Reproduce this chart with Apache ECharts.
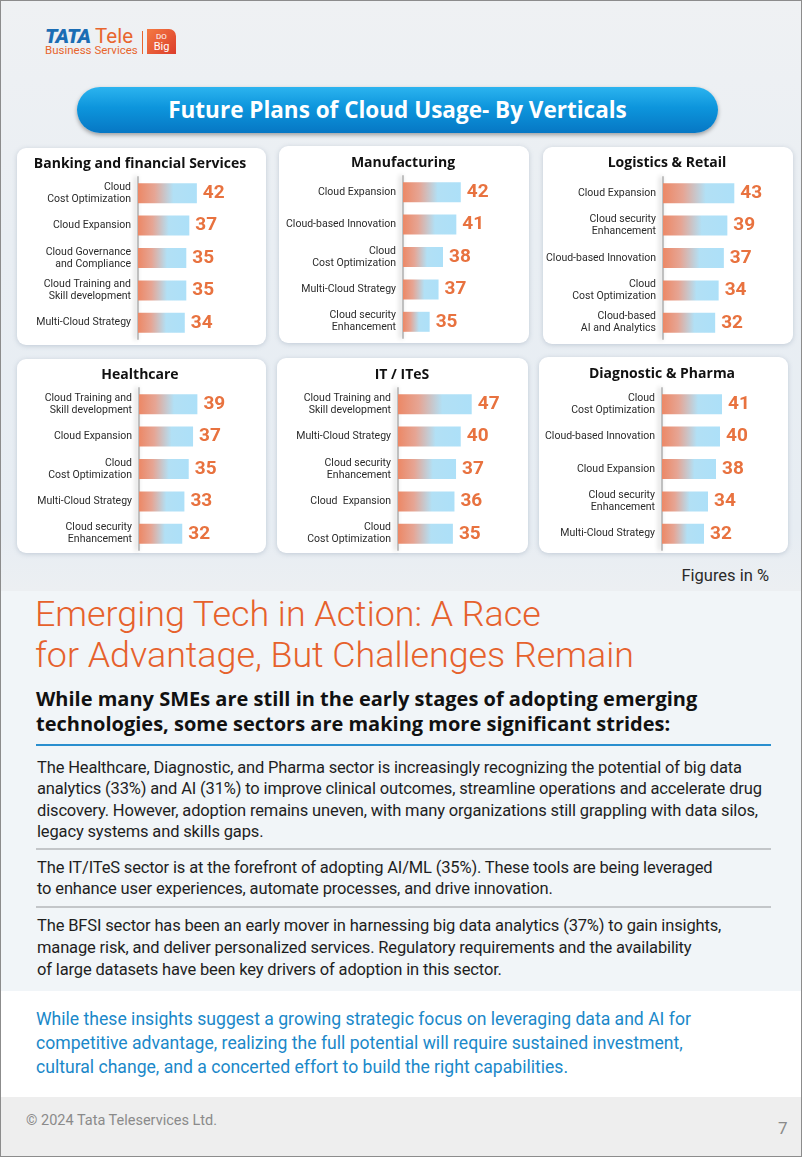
<!DOCTYPE html>
<html>
<head>
<meta charset="utf-8">
<script src="https://cdn.jsdelivr.net/npm/echarts@6/dist/echarts.min.js"></script>
<style>
  html,body{margin:0;padding:0;}
  body{width:802px;height:1157px;position:relative;overflow:hidden;font-family:Roboto,"Open Sans",sans-serif;}
  #page{position:absolute;left:0;top:0;width:800px;height:1155px;border:1px solid #8c8c8c;background:#eef1f4;overflow:hidden;}
  .abs{position:absolute;white-space:nowrap;}
  .panel{position:absolute;background:#fff;border-radius:9px;box-shadow:0 1px 5px rgba(90,110,140,0.28);}
  #chart{position:absolute;left:0;top:0;width:802px;height:1157px;}
  .body{font-size:16.5px;color:#1e1e1e;letter-spacing:-0.15px;}
</style>
</head>
<body>
<div id="page">
  <!-- backgrounds -->
  <div class="abs" style="left:0;top:0;width:800px;height:590px;background:linear-gradient(#eff1f3,#e9eef3 40%,#e7edf3 90%,#eceff2);"></div>
  <div class="abs" style="left:0;top:590px;width:800px;height:400px;background:#f1f5f8;"></div>
  <div class="abs" style="left:0;top:990px;width:800px;height:106px;background:#ffffff;"></div>
  <div class="abs" style="left:0;top:1096px;width:800px;height:60px;background:#eeeeee;"></div>

  <!-- logo -->
  <div class="abs" style="left:44px;top:24px;font-size:20.5px;line-height:22px;">
    <span style="color:#1b6db4;font-weight:900;font-style:italic;letter-spacing:-0.8px;">TATA</span><span style="color:#e8652d;"> Tele</span>
  </div>
  <div class="abs" style="left:44px;top:42px;font-size:11.5px;line-height:14px;color:#e8652d;">Business Services</div>
  <div class="abs" style="left:141px;top:30px;width:1px;height:23px;background:#e8652d;"></div>
  <div class="abs" style="left:146px;top:28px;width:29px;height:25px;background:linear-gradient(135deg,#f47a42,#dc3d2b);border-radius:0 7px 0 0;color:#fff;text-align:center;font-size:9px;line-height:9px;">
    <div style="padding-top:3px;font-size:8px;">DO</div><div style="font-size:11px;line-height:12px;">Big</div>
  </div>

  <!-- banner -->
  <div class="abs" style="left:76px;top:86px;width:641px;height:46px;border-radius:23px;background:linear-gradient(#2cb4ef,#0d95dc 45%,#0677c4);box-shadow:0 2px 4px rgba(0,0,0,0.35);color:#fff;font-family:'Open Sans',sans-serif;font-weight:bold;font-size:22.5px;line-height:46px;text-align:center;">Future Plans of Cloud Usage- By Verticals</div>

  <!-- panel backgrounds -->
  <div class="panel" style="left:16px;top:147px;width:249px;height:197px;"></div>
  <div class="panel" style="left:278px;top:145px;width:250px;height:197px;"></div>
  <div class="panel" style="left:542px;top:146px;width:250px;height:197px;"></div>
  <div class="panel" style="left:16px;top:358px;width:249px;height:194px;"></div>
  <div class="panel" style="left:276px;top:357px;width:251px;height:195px;"></div>
  <div class="panel" style="left:538px;top:356px;width:249px;height:196px;"></div>

  <div class="abs" style="right:32px;top:564px;font-size:16.5px;line-height:22px;color:#2a2a2a;">Figures in %</div>

  <div class="abs" style="left:34px;top:593px;font-size:35.8px;line-height:41px;color:#e6612c;font-weight:300;">Emerging Tech in Action: A Race<br>for Advantage, But Challenges Remain</div>

  <div class="abs" style="left:35px;top:685px;font-family:'Open Sans',sans-serif;font-size:20px;line-height:25px;color:#111;font-weight:bold;">While many SMEs are still in the early stages of adopting emerging<br>technologies, some sectors are making more significant strides:</div>

  <div class="abs" style="left:35px;top:743px;width:735px;height:1.5px;background:#2a8fcf;"></div>

  <div class="abs body" style="left:36px;top:756px;line-height:21.3px;">The Healthcare, Diagnostic, and Pharma sector is increasingly recognizing the potential of big data<br>analytics (33%) and AI (31%) to improve clinical outcomes, streamline operations and accelerate drug<br>discovery. However, adoption remains uneven, with many organizations still grappling with data silos,<br>legacy systems and skills gaps.</div>
  <div class="abs" style="left:35px;top:847px;width:735px;height:2px;background:#c3c6c9;"></div>
  <div class="abs body" style="left:36px;top:857px;line-height:20.5px;">The IT/ITeS sector is at the forefront of adopting AI/ML (35%). These tools are being leveraged<br>to enhance user experiences, automate processes, and drive innovation.</div>
  <div class="abs" style="left:35px;top:905px;width:735px;height:2px;background:#c3c6c9;"></div>
  <div class="abs body" style="left:36px;top:914px;line-height:22px;">The BFSI sector has been an early mover in harnessing big data analytics (37%) to gain insights,<br>manage risk, and deliver personalized services. Regulatory requirements and the availability<br>of large datasets have been key drivers of adoption in this sector.</div>

  <div class="abs" style="left:35px;top:1006px;font-size:17.6px;line-height:24px;color:#1a88c9;">While these insights suggest a growing strategic focus on leveraging data and AI for<br>competitive advantage, realizing the full potential will require sustained investment,<br>cultural change, and a concerted effort to build the right capabilities.</div>

  <div class="abs" style="left:25px;top:1111px;font-size:14.5px;line-height:18px;color:#8a8a8a;">© 2024 Tata Teleservices Ltd.</div>
  <div class="abs" style="left:777px;top:1116px;font-size:17px;line-height:22px;color:#8a8a8a;">7</div>
</div>
<div id="chart"></div>

<script>
// ---- data ----
const bfsiTitle = 'Banking and financial Services';
const bfsiCats = ['Cloud\nCost Optimization','Cloud Expansion','Cloud Governance\nand Compliance','Cloud Training and\nSkill development','Multi-Cloud Strategy'];
const bfsiVals = [42, 37, 35, 35, 34];

const mfgTitle = 'Manufacturing';
const mfgCats = ['Cloud Expansion','Cloud-based Innovation','Cloud\nCost Optimization','Multi-Cloud Strategy','Cloud security\nEnhancement'];
const mfgVals = [42, 41, 38, 37, 35];

const logTitle = 'Logistics & Retail';
const logCats = ['Cloud Expansion','Cloud security\nEnhancement','Cloud-based Innovation','Cloud\nCost Optimization','Cloud-based\nAI and Analytics'];
const logVals = [43, 39, 37, 34, 32];

const hcTitle = 'Healthcare';
const hcCats = ['Cloud Training and\nSkill development','Cloud Expansion','Cloud\nCost Optimization','Multi-Cloud Strategy','Cloud security\nEnhancement'];
const hcVals = [39, 37, 35, 33, 32];

const itTitle = 'IT / ITeS';
const itCats = ['Cloud Training and\nSkill development','Multi-Cloud Strategy','Cloud security\nEnhancement','Cloud  Expansion','Cloud\nCost Optimization'];
const itVals = [47, 40, 37, 36, 35];

const dpTitle = 'Diagnostic & Pharma';
const dpCats = ['Cloud\nCost Optimization','Cloud-based Innovation','Cloud Expansion','Cloud security\nEnhancement','Multi-Cloud Strategy'];
const dpVals = [41, 40, 38, 34, 32];

// ---- layout (positions / scales only) ----
const layout = [
  {title: bfsiTitle, cats: bfsiCats, vals: bfsiVals, cx: 140, ty: 157, left: 138, top: 177, min: 3,  max: 56},
  {title: mfgTitle,  cats: mfgCats,  vals: mfgVals,  cx: 403, ty: 156, left: 403, top: 176, min: 29, max: 47},
  {title: logTitle,  cats: logCats,  vals: logVals,  cx: 667, ty: 156, left: 663, top: 177, min: 2,  max: 48},
  {title: hcTitle,   cats: hcCats,   vals: hcVals,   cx: 140, ty: 368, left: 139, top: 388, min: 12, max: 49},
  {title: itTitle,   cats: itCats,   vals: itVals,   cx: 402, ty: 368, left: 398, top: 388, min: 0,  max: 51},
  {title: dpTitle,   cats: dpCats,   vals: dpVals,   cx: 662, ty: 367, left: 662, top: 388, min: 11, max: 51}
];

const FONT = 'Roboto, "Open Sans", sans-serif';
const TFONT = '"Open Sans", Roboto, sans-serif';
const barGradient = new echarts.graphic.LinearGradient(0, 0, 1, 0, [
  {offset: 0, color: '#ec8866'},
  {offset: 0.28, color: '#e6a594'},
  {offset: 0.6, color: '#b2e0f5'},
  {offset: 1, color: '#ade0f8'}
]);

const option = {
  animation: false,
  backgroundColor: 'transparent',
  title: layout.map(p => ({
    text: p.title, left: p.cx, top: p.ty, textAlign: 'center', padding: 0,
    textStyle: {fontFamily: TFONT, fontSize: 14, fontWeight: 'bold', color: '#111'}
  })),
  grid: layout.map(p => ({left: p.left, top: p.top, width: 80, height: 162, containLabel: false})),
  xAxis: layout.map((p, i) => ({
    type: 'value', gridIndex: i, min: p.min, max: p.max,
    show: false
  })),
  yAxis: layout.map((p, i) => ({
    type: 'category', gridIndex: i, data: p.cats, inverse: true,
    axisTick: {show: false},
    axisLine: {show: true, lineStyle: {color: 'rgba(170,170,170,0.7)', width: 2, shadowBlur: 5, shadowColor: 'rgba(0,0,0,0.35)', shadowOffsetX: -2}},
    axisLabel: {fontFamily: FONT, fontSize: 10.5, lineHeight: 12, color: '#2b2b2b', margin: 7, align: 'right'}
  })),
  series: layout.map((p, i) => ({
    type: 'bar', xAxisIndex: i, yAxisIndex: i, data: p.vals,
    barWidth: 20,
    itemStyle: {color: barGradient},
    label: {show: true, position: 'right', distance: 6, fontFamily: FONT, fontSize: 19, fontWeight: 'bold', color: '#e8723f'}
  }))
};

const chart = echarts.init(document.getElementById('chart'), null, {renderer: 'canvas'});
chart.setOption(option);
</script>
</body>
</html>
